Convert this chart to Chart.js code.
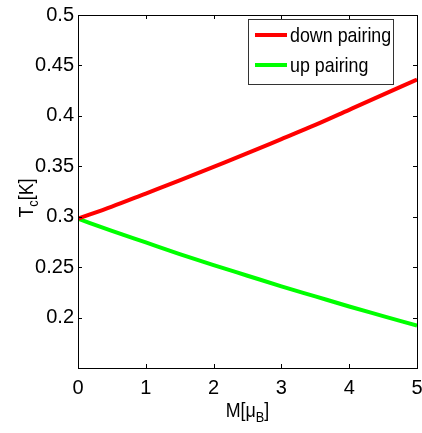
<!DOCTYPE html>
<html lang="en">
<head>
<meta charset="UTF-8">
<title>Tc vs M</title>
<script src="https://cdn.jsdelivr.net/npm/chart.js"></script>
<style>
  body { margin: 0; background: #fff; }
  canvas { display: block; }
</style>
</head>
<body>
<canvas id="myChart" width="422" height="433"></canvas>
<script>
const FONT = '"Liberation Sans", Arial, sans-serif';
const SQUEEZE = 0.85; // reference uses a narrow helvetica

// M [mu_B]
const mValues = [0, 0.5, 1, 1.5, 2, 2.5, 3, 3.5, 4, 4.5, 5];
// Tc [K]
const downPairing = [0.298, 0.310, 0.323, 0.336, 0.3495, 0.363, 0.377, 0.391, 0.406, 0.421, 0.436];
const upPairing = [0.298, 0.286, 0.2745, 0.263, 0.252, 0.2415, 0.231, 0.221, 0.211, 0.2015, 0.192];

const xTicks = [0, 1, 2, 3, 4, 5];
const yTicks = [0.2, 0.25, 0.3, 0.35, 0.4, 0.45, 0.5];

const toPoints = (ys) => ys.map((y, i) => ({ x: mValues[i], y: y }));

// draws pieces [{text, size, dy}] squeezed horizontally, starting at x
const drawPieces = (ctx, pieces, x, y, align) => {
    let total = 0;
    pieces.forEach(p => { ctx.font = p.size + 'px ' + FONT; p.w = ctx.measureText(p.text).width; total += p.w; });
    ctx.save();
    ctx.translate(x, y);
    ctx.scale(SQUEEZE, 1);
    let cx = align === 'center' ? -total / 2 : 0;
    pieces.forEach(p => {
        ctx.font = p.size + 'px ' + FONT;
        ctx.fillText(p.text, cx, p.dy || 0);
        cx += p.w;
    });
    ctx.restore();
};

// axes box, inward ticks on all four sides, legend and titles with subscripts
const matlabAxes = {
    id: 'matlabAxes',
    afterDraw: (chart) => {
        const { ctx, chartArea: a, scales: { x, y } } = chart;
        const len = 4;
        ctx.save();
        ctx.strokeStyle = '#000';
        ctx.lineWidth = 1;
        ctx.beginPath();
        xTicks.forEach(v => {
            const px = Math.round(x.getPixelForValue(v)) + 0.5;
            ctx.moveTo(px, a.bottom); ctx.lineTo(px, a.bottom - len);
            ctx.moveTo(px, a.top); ctx.lineTo(px, a.top + len);
        });
        yTicks.forEach(v => {
            const py = Math.round(y.getPixelForValue(v)) + 0.5;
            ctx.moveTo(a.left, py); ctx.lineTo(a.left + len, py);
            ctx.moveTo(a.right, py); ctx.lineTo(a.right - len, py);
        });
        ctx.stroke();
        ctx.strokeRect(Math.round(a.left) + 0.5, Math.round(a.top) + 0.5,
                       Math.round(a.right - a.left), Math.round(a.bottom - a.top));

        // legend
        const bx = 248.5, by = 19.5, bw = 145, bh = 65;
        ctx.fillStyle = '#fff';
        ctx.fillRect(bx, by, bw, bh);
        ctx.strokeStyle = '#333';
        ctx.strokeRect(bx, by, bw, bh);
        ctx.textBaseline = 'middle';
        ctx.textAlign = 'left';
        chart.data.datasets.forEach((ds, i) => {
            const ly = 35 + i * 30;
            ctx.strokeStyle = ds.borderColor;
            ctx.lineWidth = 4;
            ctx.beginPath();
            ctx.moveTo(255, ly); ctx.lineTo(287, ly);
            ctx.stroke();
            ctx.fillStyle = '#000';
            drawPieces(ctx, [{ text: ds.label, size: 21 }], 290, ly + 1, 'left');
        });

        // x title: M[μB]
        ctx.fillStyle = '#000';
        ctx.textBaseline = 'alphabetic';
        drawPieces(ctx, [
            { text: 'M[\u03bc', size: 21 },
            { text: 'B', size: 15, dy: 5 },
            { text: ']', size: 21 }
        ], (a.left + a.right) / 2, 417, 'center');

        // y title: Tc[K]
        ctx.translate(33, 198);
        ctx.rotate(-Math.PI / 2);
        drawPieces(ctx, [
            { text: 'T', size: 21 },
            { text: 'c', size: 15, dy: 5 },
            { text: '[K]', size: 21 }
        ], 0, 0, 'center');
        ctx.restore();
    }
};

const data = {
    datasets: [
        {
            label: 'down pairing',
            data: toPoints(downPairing),
            borderColor: '#ff0000',
            backgroundColor: '#ff0000',
        },
        {
            label: 'up pairing',
            data: toPoints(upPairing),
            borderColor: '#00ff00',
            backgroundColor: '#00ff00',
        }
    ]
};

const config = {
    type: 'line',
    data: data,
    options: {
        responsive: false,
        animation: false,
        layout: { padding: { top: 15, right: 5, left: 0, bottom: 0 } },
        elements: {
            line: { borderWidth: 4, cubicInterpolationMode: 'monotone' },
            point: { radius: 0 }
        },
        plugins: {
            legend: { display: false },
            tooltip: { enabled: false }
        },
        scales: {
            x: {
                type: 'linear',
                min: 0,
                max: 5,
                grid: { display: false, drawTicks: false },
                border: { display: false },
                afterBuildTicks: (s) => { s.ticks = xTicks.map(v => ({ value: v })); },
                afterFit: (s) => { s.height = 65; s.paddingLeft = 0; s.paddingRight = 0; },
                ticks: {
                    color: '#000',
                    padding: 8,
                    maxRotation: 0,
                    font: { family: FONT, size: 20 },
                    callback: (v) => String(v)
                }
            },
            y: {
                min: 0.15,
                max: 0.5,
                grid: { display: false, drawTicks: false },
                border: { display: false },
                afterBuildTicks: (s) => { s.ticks = yTicks.map(v => ({ value: v })); },
                afterFit: (s) => { s.width = 78; s.paddingTop = 0; s.paddingBottom = 0; },
                ticks: {
                    color: '#000',
                    padding: 4,
                    font: { family: FONT, size: 20 },
                    callback: (v) => String(Math.round(v * 100) / 100)
                }
            }
        }
    },
    plugins: [matlabAxes]
};

new Chart(document.getElementById('myChart').getContext('2d'), config);
</script>
</body>
</html>
